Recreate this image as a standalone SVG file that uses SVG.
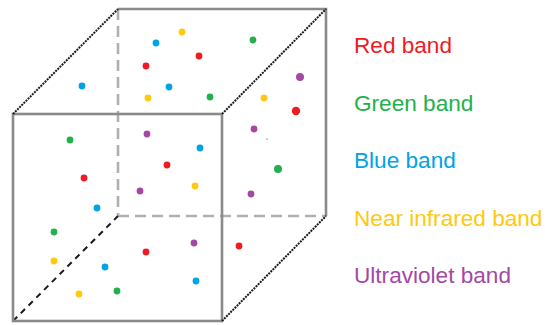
<svg xmlns="http://www.w3.org/2000/svg" width="545" height="325" viewBox="0 0 545 325">
<style>
.solid{stroke:#8a8a8a;stroke-width:2.6;fill:none;stroke-linejoin:miter}
.hidden{stroke:#b0b0b0;stroke-width:2.6;fill:none;stroke-dasharray:11 6}
.diag{stroke:#1a1a1a;stroke-width:2;fill:none;stroke-dasharray:2 1}
.diagh{stroke:#1a1a1a;stroke-width:2;fill:none;stroke-dasharray:6 5}
.r{fill:#ed1c24}.g{fill:#22b14c}.b{fill:#00a2e8}.y{fill:#ffc90e}.p{fill:#a349a4}
text{font-family:"Liberation Sans",Arial,sans-serif;font-size:22.6px}
</style>
<rect width="545" height="325" fill="#ffffff"/>
<g id="cube">
<line class="hidden" x1="118" y1="9" x2="118" y2="216"/>
<line class="hidden" x1="118" y1="216" x2="326" y2="216"/>
<line class="diagh" x1="13" y1="321" x2="118" y2="216"/>
<polyline class="solid" points="118,9 326,9 326,216"/>
<rect class="solid" x="13" y="114" width="209" height="207"/>
<line class="diag" x1="13" y1="114" x2="118" y2="9"/>
<line class="diag" x1="222" y1="114" x2="326" y2="9"/>
<line class="diag" x1="222" y1="321" x2="326" y2="216"/>
</g>
<g id="points">
<circle class="b" cx="156" cy="43" r="3.4"/>
<circle class="r" cx="146" cy="66" r="3.4"/>
<circle class="b" cx="82" cy="86" r="3.4"/>
<circle class="b" cx="169" cy="87" r="3.4"/>
<circle class="y" cx="148" cy="98" r="3.4"/>
<circle class="y" cx="182" cy="32" r="3.4"/>
<circle class="g" cx="253" cy="40" r="3.4"/>
<circle class="r" cx="199" cy="56" r="3.4"/>
<circle class="g" cx="210" cy="97" r="3.4"/>
<circle class="p" cx="300" cy="77" r="4"/>
<circle class="y" cx="264" cy="98" r="3.4"/>
<circle class="r" cx="296" cy="111" r="4.2"/>
<circle class="g" cx="70" cy="140" r="3.4"/>
<circle class="p" cx="147" cy="134" r="3.4"/>
<circle class="r" cx="167" cy="165" r="3.4"/>
<circle class="r" cx="84" cy="178" r="3.4"/>
<circle class="p" cx="140" cy="191" r="3.4"/>
<circle class="b" cx="97" cy="208" r="3.4"/>
<circle class="p" cx="254" cy="129" r="3.4"/>
<circle fill="#777" cx="267" cy="139" r="0.7"/>
<circle class="b" cx="200" cy="148" r="3.4"/>
<circle class="g" cx="278" cy="169" r="4"/>
<circle class="y" cx="195" cy="186" r="3.4"/>
<circle class="p" cx="251" cy="194" r="3.4"/>
<circle class="g" cx="54" cy="232" r="3.4"/>
<circle class="r" cx="146" cy="252" r="3.4"/>
<circle class="y" cx="54" cy="261" r="3.4"/>
<circle class="b" cx="105" cy="267" r="3.4"/>
<circle class="g" cx="117" cy="291" r="3.4"/>
<circle class="y" cx="79" cy="294" r="3.4"/>
<circle class="p" cx="194" cy="243" r="3.4"/>
<circle class="r" cx="239" cy="246" r="3.4"/>
<circle class="b" cx="196" cy="281" r="3.4"/>
</g>
<g id="legend">
<text x="354" y="53" fill="#ed1c24">Red band</text>
<text x="354" y="111" fill="#22b14c">Green band</text>
<text x="354" y="168" fill="#00a2e8">Blue band</text>
<text x="354" y="226" fill="#ffc90e">Near infrared band</text>
<text x="354" y="283" fill="#a349a4">Ultraviolet band</text>
</g>
</svg>
